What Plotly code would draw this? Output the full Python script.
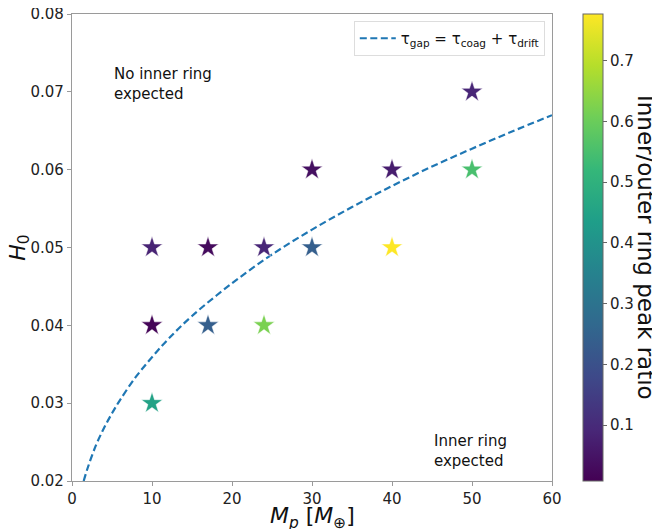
import plotly.graph_objects as go

# Star data
mass = [10, 10, 10, 17, 17, 24, 24, 30, 30, 40, 40, 50, 50]
h0 = [0.03, 0.04, 0.05, 0.04, 0.05, 0.04, 0.05, 0.05, 0.06, 0.05, 0.06, 0.06, 0.07]
ratio = [0.45, 0.015, 0.085, 0.24, 0.03, 0.62, 0.09, 0.24, 0.04, 0.777, 0.07, 0.55, 0.09]

# Dashed curve
curve_m = [1.46, 2, 3, 4, 5, 6, 8, 10, 12, 15, 20, 25, 30, 35, 40, 45, 50, 55, 60]
curve_h = [0.0200, 0.0218, 0.0246, 0.0268, 0.0287, 0.0304, 0.0334, 0.0359, 0.0382,
           0.0412, 0.0454, 0.0491, 0.0523, 0.0552, 0.0579, 0.0604, 0.0627, 0.0649, 0.0670]

x_ticks = [0, 10, 20, 30, 40, 50, 60]
y_ticks = [0.02, 0.03, 0.04, 0.05, 0.06, 0.07, 0.08]
cb_ticks = [0.1, 0.2, 0.3, 0.4, 0.5, 0.6, 0.7]

FONT = "DejaVu Sans"
GREY = "#9a9a9a"

fig = go.Figure()

fig.add_trace(go.Scatter(
    x=curve_m, y=curve_h, mode="lines", line_shape="spline",
    line=dict(color="#1f77b4", width=2.2, dash="7px,3.5px"),
    name="τ<sub>gap</sub> = τ<sub>coag</sub> + τ<sub>drift</sub>",
    showlegend=True,
))

fig.add_trace(go.Scatter(
    x=mass, y=h0, mode="markers", showlegend=False,
    marker=dict(
        symbol="star", size=16, color=ratio, colorscale="Viridis",
        cmin=0.008, cmax=0.777,
        line=dict(color="white", width=0.5),
        colorbar=dict(
            x=1.0646, xanchor="left", xref="paper", y=0, yanchor="bottom", len=1, lenmode="fraction",
            thickness=20, outlinecolor="#666666", outlinewidth=1,
            tickvals=cb_ticks, ticktext=[f"{v:.1f}" for v in cb_ticks],
            ticks="outside", ticklen=4, tickcolor="#666666",
            tickfont=dict(family=FONT, size=15, color="#222"),
            xpad=0, ypad=0,
        ),
    ),
))

fig.add_annotation(
    x=5, y=0.0737, xref="x", yref="y", xanchor="left", yanchor="top",
    text="No inner ring<br>expected", showarrow=False, align="left",
    font=dict(family=FONT, size=15, color="#111"),
)
fig.add_annotation(
    x=45, y=0.0265, xref="x", yref="y", xanchor="left", yanchor="top",
    text="Inner ring<br>expected", showarrow=False, align="left",
    font=dict(family=FONT, size=15, color="#111"),
)
fig.add_annotation(
    x=1.197, y=0.5, xref="paper", yref="paper", xanchor="center", yanchor="middle",
    text="Inner/outer ring peak ratio", showarrow=False, textangle=90,
    font=dict(family=FONT, size=23, color="#111"),
)
# axis titles
fig.add_annotation(
    x=0.5, y=-0.079, xref="paper", yref="paper", xanchor="center", yanchor="middle",
    text="<i>M</i><sub><i>p</i></sub> [<i>M</i><sub>⊕</sub>]", showarrow=False,
    font=dict(family=FONT, size=22, color="#111"),
)
fig.add_annotation(
    x=-0.11, y=0.5, xref="paper", yref="paper", xanchor="center", yanchor="middle",
    text="<i>H</i><sub>0</sub>", showarrow=False, textangle=-90,
    font=dict(family=FONT, size=22, color="#111"),
)

# page body has an 8px margin, so the figure is 8px smaller on each axis
fig.update_layout(
    width=652, height=521,
    margin=dict(l=64, r=108, t=6, b=48, autoexpand=False),
    paper_bgcolor="white", plot_bgcolor="white",
    font=dict(family=FONT, size=15, color="#222"),
    legend=dict(
        x=0.985, y=0.985, xanchor="right", yanchor="top",
        bgcolor="white", bordercolor="#dddddd", borderwidth=1,
        font=dict(family=FONT, size=15, color="#111"),
        itemwidth=36,
    ),
)

fig.update_xaxes(
    range=[0, 60], tickvals=x_ticks, ticktext=[str(v) for v in x_ticks],
    showgrid=False, zeroline=False, showline=True, mirror=True,
    linecolor=GREY, linewidth=1.3, ticks="outside", ticklen=4, tickcolor=GREY,
    tickfont=dict(family=FONT, size=15, color="#222"), ticklabeloverflow="allow",
)
fig.update_yaxes(
    range=[0.02, 0.08], tickvals=y_ticks, ticktext=[f"{v:.2f}" for v in y_ticks],
    showgrid=False, zeroline=False, showline=True, mirror=True,
    linecolor=GREY, linewidth=1.3, ticks="outside", ticklen=4, tickcolor=GREY,
    tickfont=dict(family=FONT, size=15, color="#222"), ticklabeloverflow="allow",
)

fig.write_html("out.html")
